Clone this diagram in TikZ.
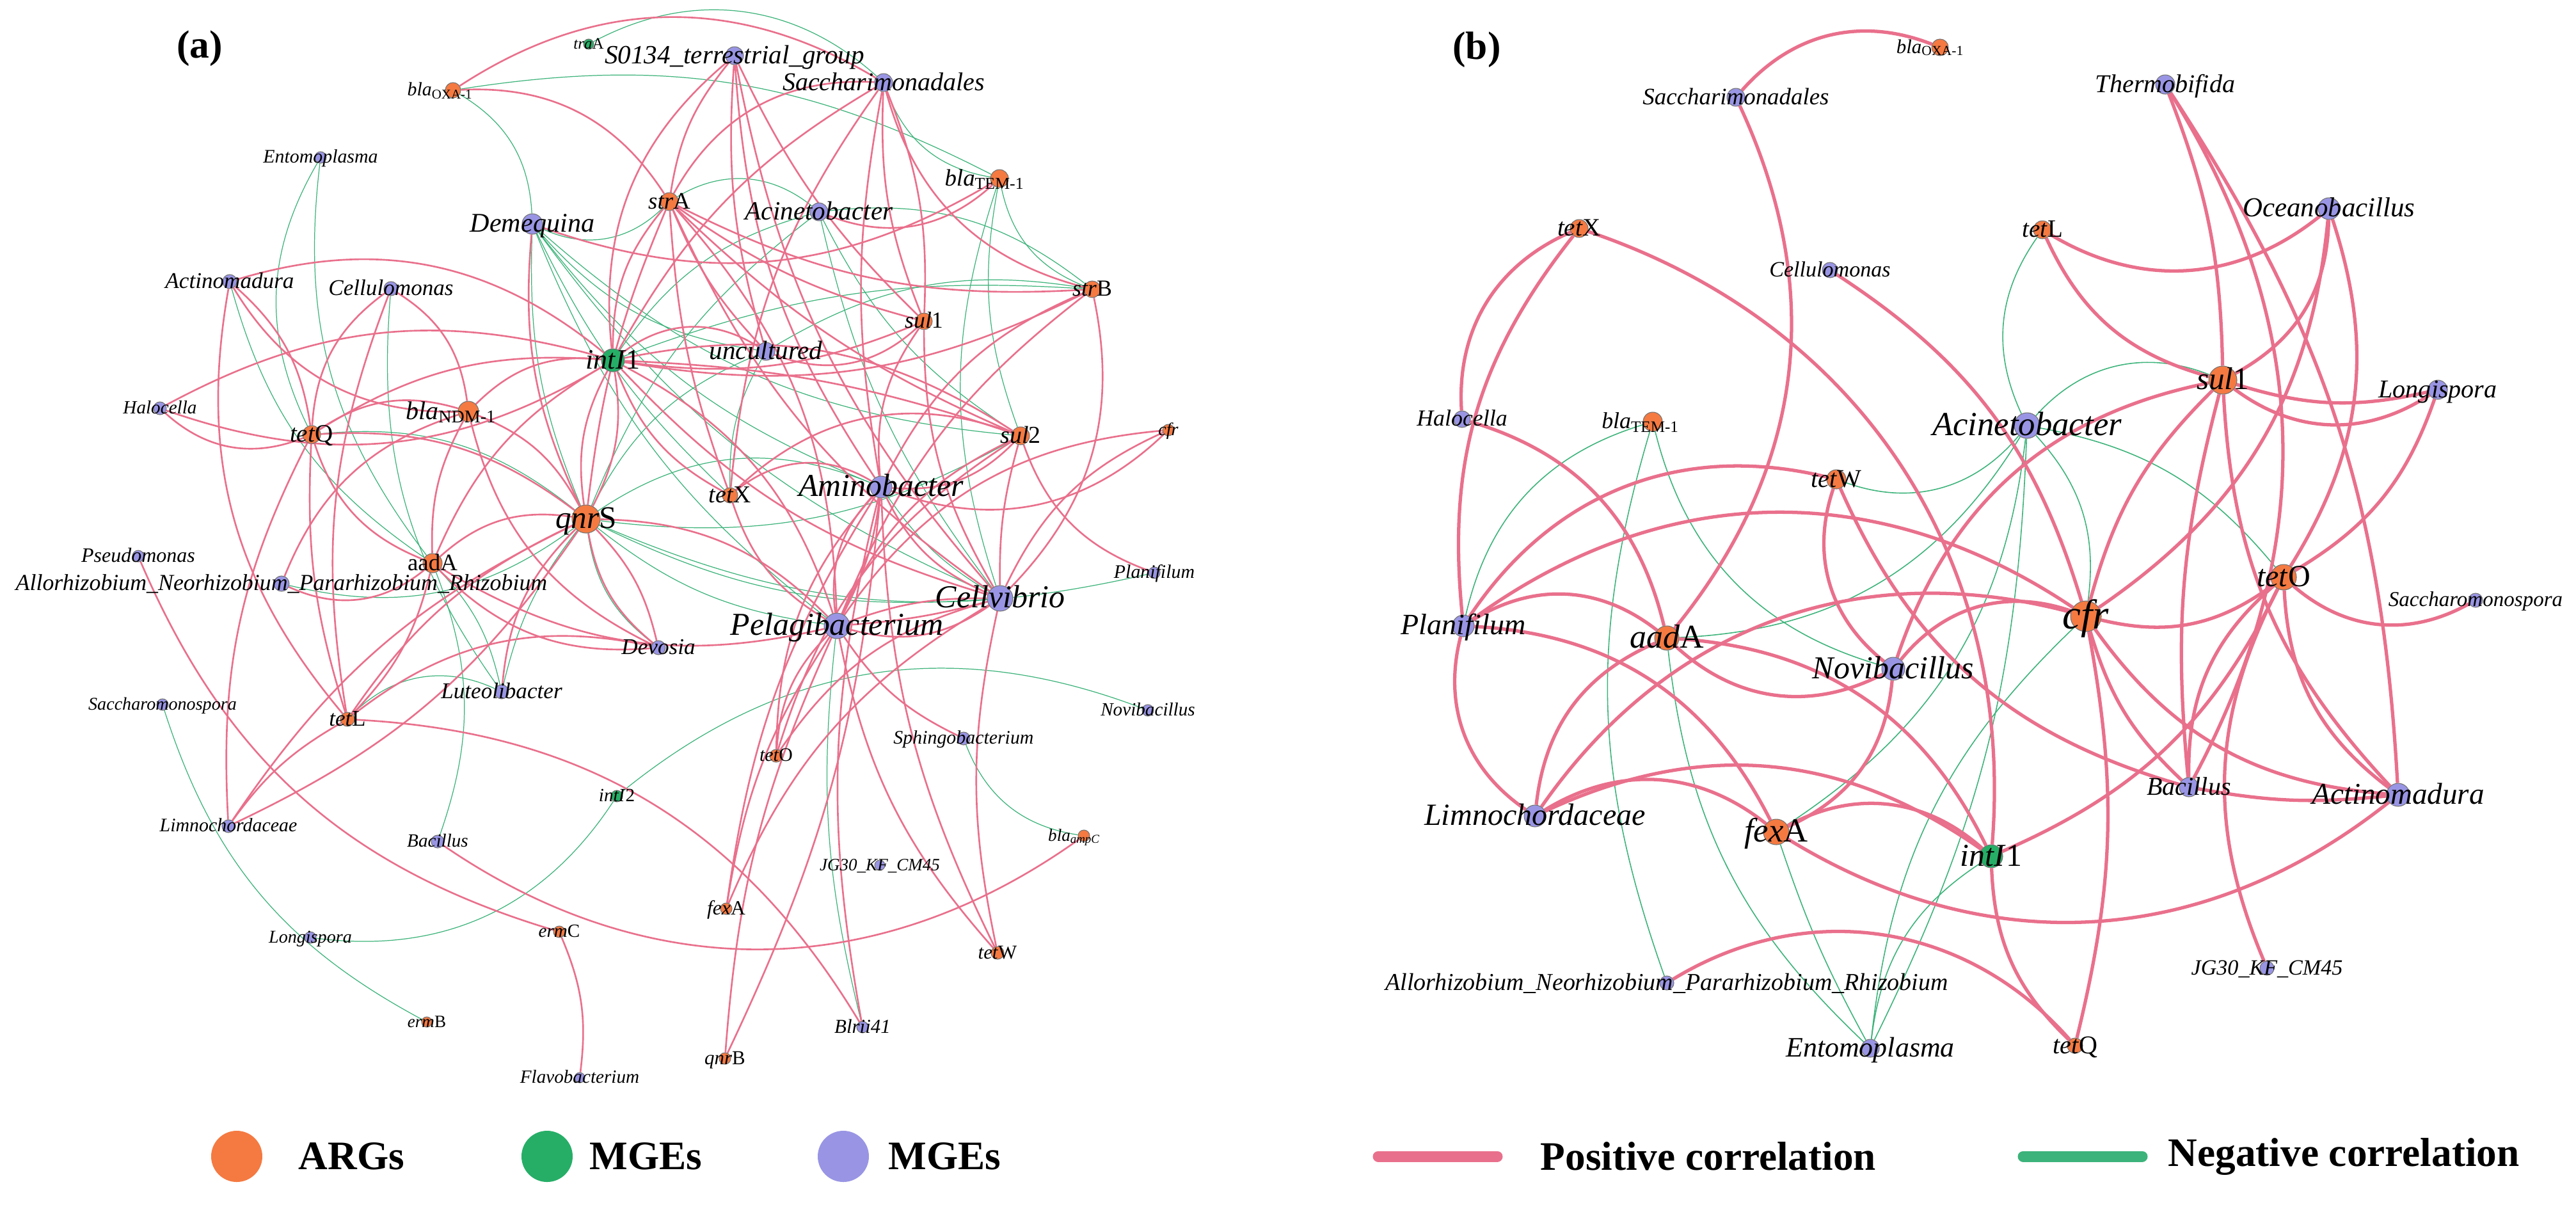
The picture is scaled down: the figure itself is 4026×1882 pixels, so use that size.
\documentclass[tikz,border=0pt]{standalone}
\usepackage{fontspec}
\setmainfont{Liberation Serif}
\usetikzlibrary{backgrounds}
\definecolor{argcol}{RGB}{244,122,66}
\definecolor{mgecol}{RGB}{38,174,103}
\definecolor{taxcol}{RGB}{153,149,228}
\definecolor{poscol}{RGB}{233,112,140}
\definecolor{negcol}{RGB}{60,179,122}
\newcommand\fz[1]{\fontsize{#1}{#1}\selectfont}

\begin{document}
\begin{tikzpicture}[x=0.1mm, y=-0.1mm,
  dot/.style={circle, inner sep=0pt, minimum size=#1*0.1mm, draw=black!55, line width=0.3pt},
  argn/.style={dot=#1, fill=argcol},
  mgen/.style={dot=#1, fill=mgecol},
  taxn/.style={dot=#1, fill=taxcol},
  lbl/.style={inner sep=0pt, anchor=base, yshift=-0.3*#1pt, font=\itshape\fz{#1}},
  pinka/.style={draw=poscol, line width=0.75pt},
  greena/.style={draw=negcol, line width=0.35pt},
  pinkb/.style={draw=poscol, line width=1.5pt},
  greenb/.style={draw=negcol, line width=0.45pt},
  legtxt/.style={inner sep=0pt, anchor=west, font=\bfseries\fz{18}},
  panel/.style={inner sep=0pt, font=\bfseries\fz{17.5}}
]
\useasboundingbox (0,0) rectangle (4026,1882);

% panel (a): nodes
\node[mgen=16] (aTraA) at (920,69) {};
\node[argn=24] (aOXA) at (708,141) {};
\node[taxn=28] (aS0134) at (1148,87) {};
\node[taxn=28] (aSacch) at (1381,129) {};
\node[argn=28] (aTEM) at (1562,279) {};
\node[argn=28] (aStrA) at (1046,315) {};
\node[taxn=28] (aAcin) at (1280,331) {};
\node[taxn=18] (aEnto) at (501,246) {};
\node[taxn=32] (aDeme) at (832,350) {};
\node[taxn=22] (aActi) at (359,440) {};
\node[taxn=22] (aCellu) at (611,451) {};
\node[argn=26] (aStrB) at (1707,452) {};
\node[argn=26] (aSul1) at (1444,502) {};
\node[taxn=28] (aUncu) at (1197,549) {};
\node[mgen=36] (aIntI1) at (958,563) {};
\node[taxn=20] (aHalo) at (250,638) {};
\node[argn=32] (aNDM) at (732,643) {};
\node[argn=28] (aTetQ) at (487,679) {};
\node[argn=28] (aSul2) at (1595,681) {};
\node[argn=18] (aCfr) at (1826,672) {};
\node[argn=24] (aTetX) at (1141,774) {};
\node[taxn=34] (aAmino) at (1377,761) {};
\node[argn=44] (aQnrS) at (916,811) {};
\node[taxn=18] (aPseu) at (216,869) {};
\node[argn=30] (aAadA) at (676,880) {};
\node[taxn=24] (aAllo) at (440,912) {};
\node[taxn=18] (aPlani) at (1804,895) {};
\node[taxn=40] (aCellv) at (1563,935) {};
\node[taxn=40] (aPelag) at (1308,978) {};
\node[taxn=22] (aDevo) at (1029,1012) {};
\node[taxn=22] (aLuteo) at (784,1081) {};
\node[taxn=18] (aSacchar) at (254,1101) {};
\node[taxn=18] (aNovi) at (1794,1110) {};
\node[argn=22] (aTetL) at (543,1124) {};
\node[taxn=20] (aSphingo) at (1506,1154) {};
\node[argn=20] (aTetO) at (1213,1181) {};
\node[mgen=18] (aIntI2) at (964,1244) {};
\node[taxn=20] (aLimno) at (357,1291) {};
\node[taxn=20] (aBacil) at (684,1315) {};
\node[argn=18] (aAmpC) at (1694,1306) {};
\node[taxn=16] (aJG30) at (1375,1352) {};
\node[argn=18] (aFexA) at (1135,1420) {};
\node[argn=18] (aErmC) at (874,1456) {};
\node[taxn=18] (aLongi) at (485,1465) {};
\node[argn=20] (aTetW) at (1559,1489) {};
\node[argn=16] (aErmB) at (667,1597) {};
\node[taxn=18] (aBlrii) at (1348,1605) {};
\node[argn=18] (aQnrB) at (1133,1654) {};
\node[taxn=16] (aFlavo) at (906,1684) {};

% panel (b): nodes
\node[argn=26] (bOXA) at (3032,74) {};
\node[taxn=28] (bSacch) at (2713,152) {};
\node[taxn=30] (bThermo) at (3384,132) {};
\node[argn=28] (bTetX) at (2468,357) {};
\node[argn=28] (bTetL) at (3192,359) {};
\node[taxn=34] (bOceano) at (3640,326) {};
\node[taxn=24] (bCellu) at (2860,422) {};
\node[argn=44] (bSul1) at (3474,594) {};
\node[taxn=30] (bLongi) at (3810,609) {};
\node[taxn=26] (bHalo) at (2285,655) {};
\node[argn=30] (bTEM) at (2583,659) {};
\node[taxn=40] (bAcin) at (3168,665) {};
\node[argn=30] (bTetW) at (2870,749) {};
\node[argn=40] (bTetO) at (3569,902) {};
\node[taxn=22] (bSacchar) at (3869,938) {};
\node[argn=48] (bCfr) at (3260,963) {};
\node[taxn=34] (bPlani) at (2287,978) {};
\node[argn=38] (bAadA) at (2605,997) {};
\node[taxn=36] (bNovi) at (2959,1045) {};
\node[taxn=30] (bBacil) at (3421,1230) {};
\node[taxn=36] (bActi) at (3748,1242) {};
\node[taxn=34] (bLimno) at (2399,1275) {};
\node[argn=40] (bFexA) at (2776,1300) {};
\node[mgen=36] (bIntI1) at (3112,1338) {};
\node[taxn=22] (bJG30) at (3543,1513) {};
\node[taxn=22] (bAllo) at (2605,1536) {};
\node[taxn=28] (bEnto) at (2923,1638) {};
\node[argn=24] (bTetQ) at (3243,1634) {};

% correlations
\begin{scope}[on background layer]
\foreach \src/\dst/\bnd in {aDeme/aOXA/28, aTEM/aOXA/18, aSacch/aTraA/35, aEnto/aTetQ/28,
  aEnto/aAadA/22, aActi/aAadA/20, aCellu/aLuteo/20, aDeme/aStrA/35, aDeme/aQnrS/12,
  aDeme/aUncu/20, aDeme/aSul2/18, aDeme/aCellv/15, aDeme/aPelag/15, aDeme/aAmino/15,
  aDeme/aTetX/10, aAcin/aStrA/35, aAcin/aSul2/15, aAcin/aCellv/12, aAcin/aQnrS/15,
  aAcin/aIntI1/20, aTEM/aStrB/28, aTEM/aSul2/15, aTEM/aCellv/18, aSacch/aTEM/30,
  aStrB/aUncu/20, aStrB/aIntI1/12, aStrB/aAcin/22, aUncu/aQnrS/20, aUncu/aTetX/15,
  aAmino/aQnrS/28, aQnrS/aSul2/18, aQnrS/aPlani/18, aQnrS/aCellv/15, aQnrS/aPelag/15,
  aQnrS/aDevo/22, aQnrS/aTetQ/22, aQnrS/aLuteo/12, aLuteo/aTetL/35, aLuteo/aAadA/15,
  aAllo/aQnrS/25, aSacchar/aErmB/22, aLongi/aIntI2/32, aBacil/aAadA/20, aNovi/aIntI2/30,
  aSphingo/aAmpC/30, aPelag/aBlrii/10, aAmino/aCellv/12}
  \draw[greena] (\src) to[bend right=\bnd] (\dst);
\foreach \src/\dst/\bnd in {aSacch/aOXA/32, aStrA/aOXA/30, aS0134/aStrA/15, aS0134/aIntI1/28,
  aS0134/aSul1/10, aS0134/aUncu/10, aS0134/aAmino/15, aS0134/aCellv/15, aSacch/aStrB/30,
  aSacch/aSul1/12, aSul1/aSacch/12, aSacch/aTetX/15, aSacch/aStrA/32, aSacch/aIntI1/15,
  aSacch/aAmino/10, aAcin/aTEM/32, aDeme/aTEM/25, aStrA/aStrB/15, aStrA/aSul1/10,
  aStrA/aSul2/10, aStrA/aUncu/10, aStrA/aTetX/8, aStrA/aQnrS/8, aStrA/aIntI1/20,
  aPelag/aStrA/20, aStrA/aCellv/15, aUncu/aIntI1/35, aSul2/aIntI1/22, aSul2/aIntI1/8,
  aIntI1/aStrB/18, aUncu/aSul1/32, aIntI1/aSul1/15, aPelag/aIntI1/22, aIntI1/aCellv/15,
  aIntI1/aQnrS/18, aQnrS/aIntI1/18, aIntI1/aNDM/25, aIntI1/aTetQ/18, aIntI1/aAadA/18,
  aIntI1/aHalo/22, aIntI1/aActi/28, aIntI1/aTetX/20, aQnrS/aNDM/20, aQnrS/aTetQ/20,
  aQnrS/aAadA/25, aQnrS/aDevo/20, aDevo/aQnrS/15, aQnrS/aLuteo/20, aQnrS/aTetL/15,
  aQnrS/aLimno/15, aPelag/aQnrS/22, aDeme/aQnrS/15, aNDM/aCellu/25, aNDM/aTetQ/25,
  aActi/aNDM/30, aNDM/aAadA/15, aNDM/aAllo/25, aNDM/aDevo/25, aTetQ/aActi/20,
  aHalo/aTetQ/32, aCellu/aTetQ/25, aTetQ/aTetL/10, aTetQ/aLimno/15, aTetQ/aAadA/25,
  aActi/aTetL/25, aCellu/aTetL/15, aHalo/aIntI1/25, aAllo/aAadA/32, aAadA/aDevo/25,
  aTetL/aAadA/15, aAadA/aPelag/22, aTetL/aLimno/12, aDevo/aTetL/25, aBlrii/aTetL/28,
  aLimno/aQnrS/15, aPseu/aErmC/25, aFlavo/aErmC/15, aBacil/aAmpC/35, aAmino/aTetX/35,
  aAmino/aSul2/25, aSul1/aAmino/20, aAmino/aPelag/25, aPelag/aAmino/10, aAmino/aCellv/20,
  aAmino/aCfr/32, aAmino/aTetO/20, aAmino/aFexA/12, aQnrB/aAmino/10, aAmino/aTetW/12,
  aAmino/aBlrii/12, aStrB/aAmino/20, aPelag/aCellv/25, aCellv/aPelag/10, aPelag/aCellv/5,
  aSul2/aPelag/20, aStrB/aPelag/15, aCfr/aPelag/25, aPelag/aSphingo/15, aPelag/aTetW/15,
  aPelag/aFexA/12, aPelag/aQnrB/10, aPelag/aTetO/20, aTetX/aPelag/20, aSul2/aCellv/8,
  aCellv/aStrB/28, aCfr/aCellv/20, aCellv/aTetO/20, aCellv/aFexA/18, aCellv/aTetW/12,
  aSul2/aPlani/25, aSul2/aTetX/32, aSul2/aTetO/20, aSul1/aCellv/15}
  \draw[pinka] (\src) to[bend right=\bnd] (\dst);

\foreach \src/\dst/\bnd in {bTEM/bPlani/30, bTEM/bAllo/18, bTEM/bNovi/30, bAadA/bEnto/20,
  bAadA/bAcin/28, bFexA/bEnto/5, bFexA/bAcin/25, bEnto/bAcin/12, bIntI1/bEnto/25,
  bCfr/bEnto/20, bCfr/bAcin/25, bTetW/bAcin/35, bTetO/bAcin/20, bSul1/bAcin/35,
  bTetL/bAcin/30}
  \draw[greenb] (\src) to[bend right=\bnd] (\dst);
\foreach \src/\dst/\bnd in {bOXA/bSacch/35, bAadA/bSacch/32, bTetX/bHalo/35, bTetX/bPlani/22,
  bIntI1/bTetX/38, bCfr/bCellu/20, bAadA/bHalo/30, bPlani/bLimno/35, bTetW/bPlani/35,
  bCfr/bPlani/35, bAadA/bPlani/35, bFexA/bPlani/30, bAadA/bLimno/30, bCfr/bLimno/35,
  bFexA/bLimno/35, bIntI1/bLimno/30, bIntI1/bFexA/35, bFexA/bNovi/30, bFexA/bActi/35,
  bTetW/bNovi/35, bCfr/bNovi/35, bTetW/bBacil/25, bAadA/bNovi/35, bIntI1/bAadA/30,
  bSul1/bNovi/30, bIntI1/bTetO/20, bTetQ/bCfr/12, bIntI1/bTetQ/22, bTetQ/bAllo/40,
  bTetO/bJG30/25, bCfr/bTetO/25, bTetO/bSacchar/35, bTetO/bActi/25, bTetO/bBacil/25,
  bCfr/bBacil/15, bSul1/bBacil/10, bCfr/bActi/25, bBacil/bActi/8, bSul1/bThermo/10,
  bBacil/bThermo/30, bActi/bThermo/15, bTetL/bOceano/35, bTetL/bSul1/25, bSul1/bOceano/30,
  bCfr/bOceano/25, bTetO/bOceano/25, bSul1/bLongi/15, bSul1/bLongi/35, bTetO/bLongi/20,
  bSul1/bCfr/15, bSul1/bActi/20}
  \draw[pinkb] (\src) to[bend right=\bnd] (\dst);
\end{scope}

% panel (a): labels
\node[lbl=7.1] (aTraAL) at (aTraA) {tra\textup{A}};
\node[lbl=8.5, xshift=-2mm] (aOXAL) at (aOXA) {bla\textsubscript{\upshape OXA-1}};
\node[lbl=11.7] (aS0134L) at (aS0134) {S0134\_terrestrial\_group};
\node[lbl=11.4] (aSacchL) at (aSacch) {Saccharimonadales};
\node[lbl=10.5, xshift=-2.3mm] (aTEML) at (aTEM) {bla\textsubscript{\upshape TEM-1}};
\node[lbl=10.5] (aStrAL) at (aStrA) {str\textup{A}};
\node[lbl=11.7] (aAcinL) at (aAcin) {Acinetobacter};
\node[lbl=8.5] (aEntoL) at (aEnto) {Entomoplasma};
\node[lbl=12] (aDemeL) at (aDeme) {Demequina};
\node[lbl=10] (aActiL) at (aActi) {Actinomadura};
\node[lbl=10] (aCelluL) at (aCellu) {Cellulomonas};
\node[lbl=10.2] (aStrBL) at (aStrB) {str\textup{B}};
\node[lbl=10.2] (aSul1L) at (aSul1) {sul\textup{1}};
\node[lbl=11.7] (aUncuL) at (aUncu) {uncultured};
\node[lbl=12.5] (aIntI1L) at (aIntI1) {intI\textup{1}};
\node[lbl=8.3] (aHaloL) at (aHalo) {Halocella};
\node[lbl=11.4, xshift=-2.7mm] (aNDML) at (aNDM) {bla\textsubscript{\upshape NDM-1}};
\node[lbl=11.1] (aTetQL) at (aTetQ) {tet\textup{Q}};
\node[lbl=10.8] (aSul2L) at (aSul2) {sul\textup{2}};
\node[lbl=8] (aCfrL) at (aCfr) {cfr};
\node[lbl=10.8] (aTetXL) at (aTetX) {tet\textup{X}};
\node[lbl=14.2] (aAminoL) at (aAmino) {Aminobacter};
\node[lbl=14] (aQnrSL) at (aQnrS) {qnr\textup{S}};
\node[lbl=9.1] (aPseuL) at (aPseu) {Pseudomonas};
\node[lbl=10.5] (aAadAL) at (aAadA) {\textup{aadA}};
\node[lbl=10.2] (aAlloL) at (aAllo) {Allorhizobium\_Neorhizobium\_Pararhizobium\_Rhizobium};
\node[lbl=8.5] (aPlaniL) at (aPlani) {Planifilum};
\node[lbl=14.2] (aCellvL) at (aCellv) {Cellvibrio};
\node[lbl=14.2] (aPelagL) at (aPelag) {Pelagibacterium};
\node[lbl=10] (aDevoL) at (aDevo) {Devosia};
\node[lbl=10] (aLuteoL) at (aLuteo) {Luteolibacter};
\node[lbl=8] (aSaccharL) at (aSacchar) {Saccharomonospora};
\node[lbl=8.3] (aNoviL) at (aNovi) {Novibacillus};
\node[lbl=10] (aTetLL) at (aTetL) {tet\textup{L}};
\node[lbl=8.5] (aSphingoL) at (aSphingo) {Sphingobacterium};
\node[lbl=8.5] (aTetOL) at (aTetO) {tet\textup{O}};
\node[lbl=8.3] (aIntI2L) at (aIntI2) {intI\textup{2}};
\node[lbl=8.5] (aLimnoL) at (aLimno) {Limnochordaceae};
\node[lbl=8.3] (aBacilL) at (aBacil) {Bacillus};
\node[lbl=7.7, xshift=-1.5mm] (aAmpCL) at (aAmpC) {bla\textsubscript{ampC}};
\node[lbl=7.7] (aJG30L) at (aJG30) {JG30\_KF\_CM45};
\node[lbl=9] (aFexAL) at (aFexA) {fex\textup{A}};
\node[lbl=8.3] (aErmCL) at (aErmC) {erm\textup{C}};
\node[lbl=8] (aLongiL) at (aLongi) {Longispora};
\node[lbl=8.8] (aTetWL) at (aTetW) {tet\textup{W}};
\node[lbl=7.7] (aErmBL) at (aErmB) {erm\textup{B}};
\node[lbl=8.8] (aBlriiL) at (aBlrii) {Blrii41};
\node[lbl=8.8] (aQnrBL) at (aQnrB) {qnr\textup{B}};
\node[lbl=8.3] (aFlavoL) at (aFlavo) {Flavobacterium};

% panel (b): labels
\node[lbl=8.8, xshift=-1.5mm] (bOXAL) at (bOXA) {bla\textsubscript{\upshape OXA-1}};
\node[lbl=10.5] (bSacchL) at (bSacch) {Saccharimonadales};
\node[lbl=11.4] (bThermoL) at (bThermo) {Thermobifida};
\node[lbl=11.1] (bTetXL) at (bTetX) {tet\textup{X}};
\node[lbl=11.1] (bTetLL) at (bTetL) {tet\textup{L}};
\node[lbl=12.2] (bOceanoL) at (bOceano) {Oceanobacillus};
\node[lbl=9.7] (bCelluL) at (bCellu) {Cellulomonas};
\node[lbl=14] (bSul1L) at (bSul1) {sul\textup{1}};
\node[lbl=11.4] (bLongiL) at (bLongi) {Longispora};
\node[lbl=10.2] (bHaloL) at (bHalo) {Halocella};
\node[lbl=10.2, xshift=-1.9mm] (bTEML) at (bTEM) {bla\textsubscript{\upshape TEM-1}};
\node[lbl=15] (bAcinL) at (bAcin) {Acinetobacter};
\node[lbl=11.4] (bTetWL) at (bTetW) {tet\textup{W}};
\node[lbl=13.7] (bTetOL) at (bTetO) {tet\textup{O}};
\node[lbl=9.4] (bSaccharL) at (bSacchar) {Saccharomonospora};
\node[lbl=18.5] (bCfrL) at (bCfr) {cfr};
\node[lbl=13.1] (bPlaniL) at (bPlani) {Planifilum};
\node[lbl=14.8] (bAadAL) at (bAadA) {aad\textup{A}};
\node[lbl=14.2] (bNoviL) at (bNovi) {Novibacillus};
\node[lbl=11.4] (bBacilL) at (bBacil) {Bacillus};
\node[lbl=13.4] (bActiL) at (bActi) {Actinomadura};
\node[lbl=13.7] (bLimnoL) at (bLimno) {Limnochordaceae};
\node[lbl=15] (bFexAL) at (bFexA) {fex\textup{A}};
\node[lbl=14.2] (bIntI1L) at (bIntI1) {intI\textup{1}};
\node[lbl=9.7] (bJG30L) at (bJG30) {JG30\_KF\_CM45};
\node[lbl=10.8] (bAlloL) at (bAllo) {Allorhizobium\_Neorhizobium\_Pararhizobium\_Rhizobium};
\node[lbl=12.5] (bEntoL) at (bEnto) {Entomoplasma};
\node[lbl=11.4] (bTetQL) at (bTetQ) {tet\textup{Q}};

% panel letters
\node[panel] (tagA) at (312,76) {(a)};
\node[panel] (tagB) at (2308,78) {(b)};

% legends
\node[argn=80, draw=none] (legArg) at (370,1807) {};
\node[legtxt] (legArgT) at (466,1807) {ARGs};
\node[mgen=80, draw=none] (legMge) at (855,1807) {};
\node[legtxt] (legMgeT) at (921,1807) {MGEs};
\node[taxn=80, draw=none] (legTax) at (1318,1807) {};
\node[legtxt] (legTaxT) at (1388,1807) {MGEs};

\coordinate (legPa) at (2154,1807);
\coordinate (legPb) at (2340,1807);
\draw[poscol, line width=1.7mm, line cap=round] (legPa) -- (legPb);
\node[legtxt] (legPosT) at (2407,1807) {Positive correlation};
\coordinate (legNa) at (3162,1807);
\coordinate (legNb) at (3348,1807);
\draw[negcol, line width=1.7mm, line cap=round] (legNa) -- (legNb);
\node[legtxt] (legNegT) at (3388,1807) {Negative correlation};
\end{tikzpicture}
\end{document}
